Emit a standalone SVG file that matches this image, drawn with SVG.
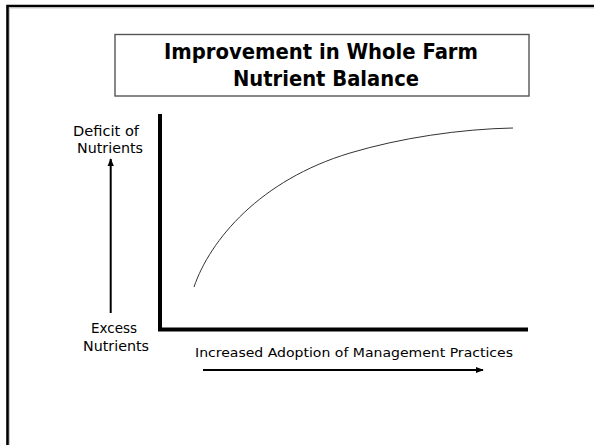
<svg xmlns="http://www.w3.org/2000/svg" width="594" height="445" viewBox="0 0 594 445">
<defs>
<style>
.t{font-family:"DejaVu Sans","Liberation Sans",sans-serif;fill:#000}
.title{font-size:21px;font-weight:bold}
.lab{font-size:14px}
.ax{fill:#000}
</style>
<marker id="ah" viewBox="0 0 10 10" refX="9" refY="5" markerWidth="4" markerHeight="4" markerUnits="strokeWidth" orient="auto">
<path d="M0,1 L10,5 L0,9 Z" fill="#000"/>
</marker>
</defs>
<rect width="594" height="445" fill="#fff"/>
<g id="slide-border">
<path d="M7.5,445 L7.5,6 L594,6" fill="none" stroke="#000" stroke-width="2.6"/>
<path d="M9.5,445 L9.5,8 L594,8" fill="none" stroke="#bbb" stroke-width="0.8"/>
</g>
<g id="title">
<rect x="115" y="34.5" width="414" height="61.5" fill="#fff" stroke="#555" stroke-width="1.4"/>
<text class="t title" x="164" y="59" textLength="314" lengthAdjust="spacingAndGlyphs">Improvement in Whole Farm</text>
<text class="t title" x="233" y="86" textLength="186" lengthAdjust="spacingAndGlyphs">Nutrient Balance</text>
</g>
<g id="axes">
<rect class="ax" x="158" y="114" width="4" height="217"/>
<rect class="ax" x="158" y="327.5" width="370" height="4"/>
</g>
<g id="curve">
<path d="M194,287 C210,240 260,180 350,153 C400,138 460,129 513,128" fill="none" stroke="#333" stroke-width="1"/>
</g>
<g id="y-top-label">
<text class="t lab" x="73" y="136" textLength="66" lengthAdjust="spacingAndGlyphs">Deficit of</text>
<text class="t lab" x="77" y="153" textLength="66" lengthAdjust="spacingAndGlyphs">Nutrients</text>
</g>
<g id="y-bottom-label">
<text class="t lab" x="91" y="333" textLength="46" lengthAdjust="spacingAndGlyphs">Excess</text>
<text class="t lab" x="83" y="351" textLength="66" lengthAdjust="spacingAndGlyphs">Nutrients</text>
</g>
<g id="x-label">
<text class="t" style="font-size:13px" x="195" y="357" textLength="318" lengthAdjust="spacingAndGlyphs">Increased Adoption of  Management Practices</text>
</g>
<g id="connectors">
<line x1="110.7" y1="313" x2="110.7" y2="159" stroke="#000" stroke-width="2" marker-end="url(#ah)"/>
<line x1="203" y1="370" x2="483" y2="370" stroke="#000" stroke-width="2" marker-end="url(#ah)"/>
</g>
</svg>
